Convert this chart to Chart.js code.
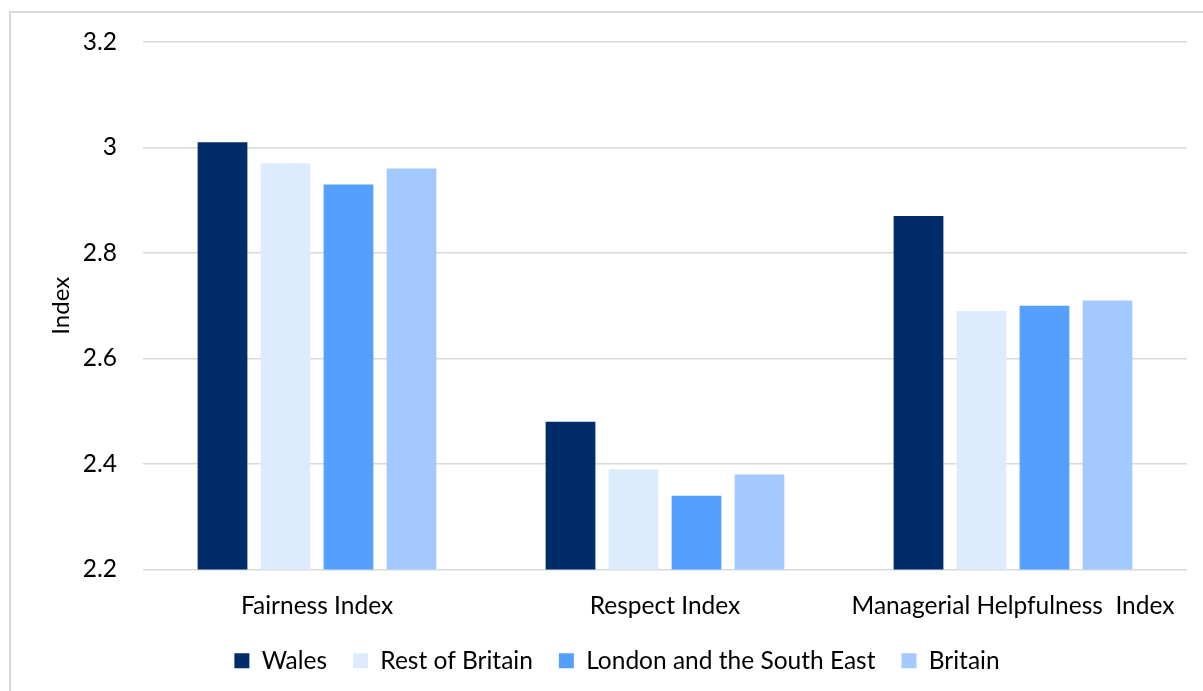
<!DOCTYPE html>
<html>
<head>
<meta charset="utf-8">
<script src="https://cdn.jsdelivr.net/npm/chart.js@4/dist/chart.umd.min.js"></script>
<style>
  html, body { margin: 0; padding: 0; background: #fff; }
  #wrap { position: relative; width: 1203px; height: 691px; overflow: hidden; }
  #frame { position: absolute; left: 9px; top: 11px; width: 1220px; height: 720px; border: 2px solid #d9d9d9; box-sizing: border-box; }
  canvas { position: absolute; left: 0; top: 0; }
</style>
</head>
<body>
<div id="wrap">
  <div id="frame"></div>
  <canvas id="myChart" width="1203" height="691"></canvas>
</div>
<script>
const categories = ['Fairness Index', 'Respect Index', 'Managerial Helpfulness  Index'];
const seriesNames = ['Wales', 'Rest of Britain', 'London and the South East', 'Britain'];
const wales = [3.01, 2.48, 2.87];
const restOfBritain = [2.97, 2.39, 2.69];
const londonSouthEast = [2.93, 2.34, 2.70];
const britain = [2.96, 2.38, 2.71];
const yTicks = [2.2, 2.4, 2.6, 2.8, 3, 3.2];

const colours = ['#002D6A', '#DDEBFF', '#559FFF', '#A3C9FF'];
const values = [wales, restOfBritain, londonSouthEast, britain];

document.addEventListener('DOMContentLoaded', () => {
    const chartElement = document.getElementById('myChart');
    const font = "Lato, 'Open Sans', sans-serif";

    new Chart(chartElement, {
        type: 'bar',
        data: {
            labels: categories,
            datasets: seriesNames.map((name, i) => ({
                label: name,
                data: values[i],
                backgroundColor: colours[i],
                borderWidth: 0,
                barPercentage: 0.79,
                categoryPercentage: 0.724
            }))
        },
        options: {
            responsive: false,
            animation: false,
            layout: { padding: { left: 47, right: 16, top: 42, bottom: 8 } },
            plugins: {
                tooltip: { enabled: false },
                legend: {
                    position: 'bottom',
                    labels: {
                        boxWidth: 15,
                        boxHeight: 15,
                        padding: 26,
                        color: '#000',
                        font: { family: font, size: 24.5 }
                    }
                }
            },
            scales: {
                x: {
                    grid: { display: false },
                    border: { display: false },
                    ticks: { color: '#000', padding: 14, font: { family: font, size: 24.5 } },
                    afterFit: (scale) => { scale.height = 53; }
                },
                y: {
                    min: 2.2,
                    max: 3.2,
                    afterBuildTicks: (scale) => { scale.ticks = yTicks.map(v => ({ value: v })); },
                    grid: { color: '#d9d9d9', lineWidth: 1.5, drawTicks: false },
                    border: { display: false },
                    ticks: {
                        color: '#000',
                        padding: 26,
                        font: { family: font, size: 24.5 },
                        callback: (v) => String(Math.round(v * 10) / 10)
                    },
                    title: {
                        display: true,
                        text: 'Index',
                        color: '#000',
                        font: { family: font, size: 24 },
                        padding: 0
                    },
                    afterFit: (scale) => { scale.width = 96; }
                }
            }
        }
    });
});
</script>
</body>
</html>
